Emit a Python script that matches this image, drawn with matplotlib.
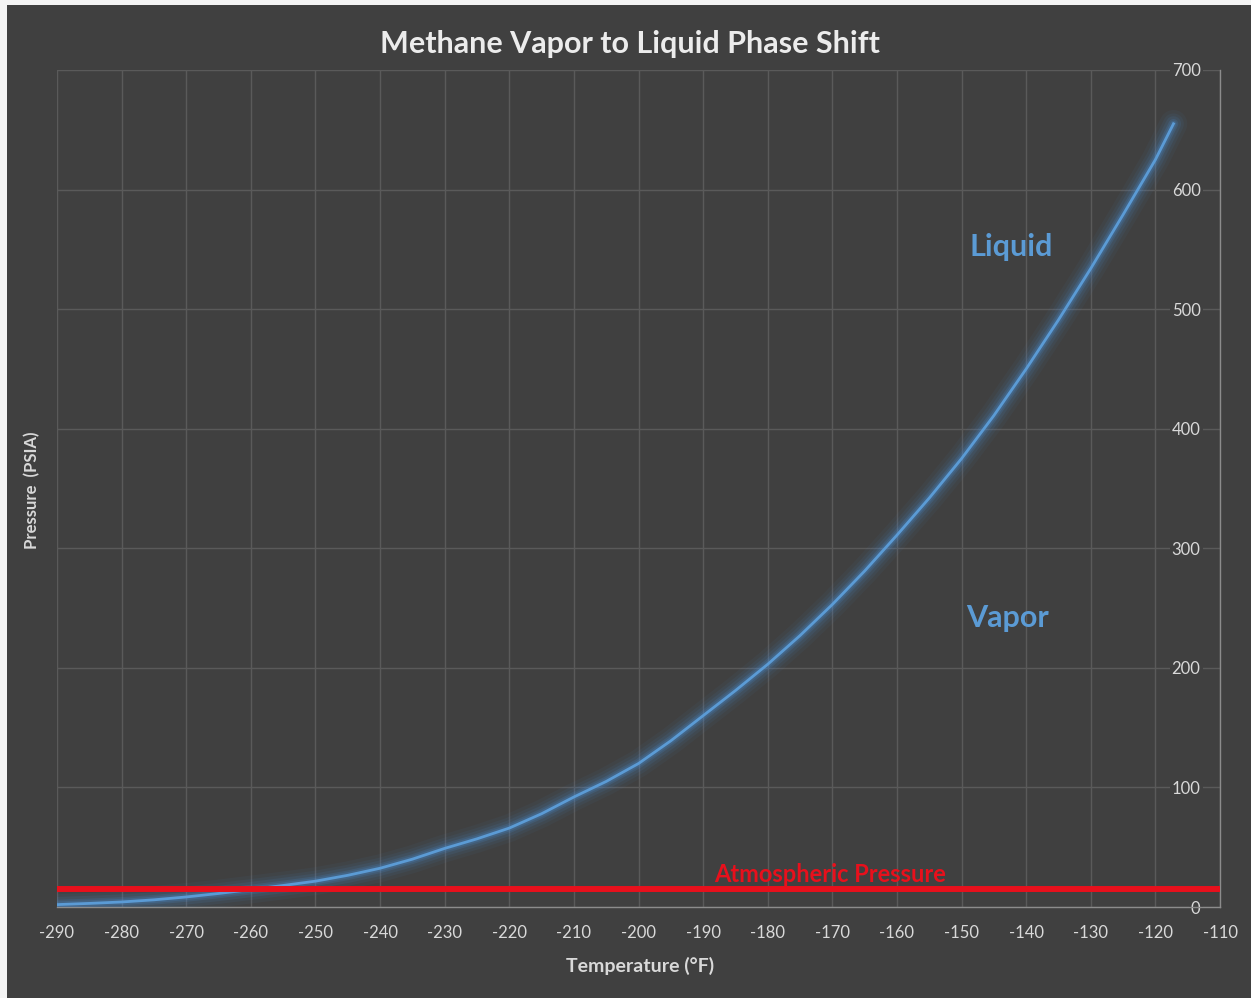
import matplotlib
matplotlib.use("Agg")
import matplotlib.pyplot as plt
from matplotlib.patches import Rectangle

plt.rcParams['font.family'] = ['Lato', 'DejaVu Sans']
plt.rcParams['axes.unicode_minus'] = False

# methane saturation curve
temp_f = [-290, -285, -280, -275, -270, -265, -260, -255, -250, -245, -240,
          -235, -230, -225, -220, -215, -210, -205, -200, -195, -190, -185,
          -180, -175, -170, -165, -160, -155, -150, -145, -140, -135, -130,
          -125, -120, -117.2]
pressure_psia = [2, 3, 4.2, 6, 8.4, 11.3, 14.6, 18, 21.6, 26.5, 32.4,
                 40, 49, 57, 66, 78, 92, 105, 120, 139, 160, 181,
                 203, 227, 253, 281, 311, 342, 375, 411, 450, 491, 534,
                 579, 625, 655]
atm_pressure = 14.7

x_ticks = list(range(-290, -109, 10))
y_ticks = list(range(0, 701, 100))

bg = '#404040'
text_col = '#d9d9d9'
blue = '#5b9bd5'
red = '#e8101c'

fig = plt.figure(figsize=(12.51, 9.98), dpi=100, facecolor=bg)
# thin light border on the top and left edges
fig.patches.append(Rectangle((0, 0), 7 / 1251, 1, transform=fig.transFigure,
                             facecolor='#f4f4f4', edgecolor='none', zorder=-10))
fig.patches.append(Rectangle((0, 1 - 5 / 998), 1, 5 / 998, transform=fig.transFigure,
                             facecolor='#f4f4f4', edgecolor='none', zorder=-10))

ax = fig.add_axes([57 / 1251, 1 - 907 / 998, (1220 - 57) / 1251, (907 - 70) / 998])
ax.set_facecolor(bg)
ax.set_xlim(-290, -110)
ax.set_ylim(0, 700)
ax.set_xticks(x_ticks)
ax.set_yticks(y_ticks)
ax.grid(True, color='#5a5a5a', linewidth=1)
ax.set_axisbelow(True)

for side in ['left', 'top']:
    ax.spines[side].set_visible(False)
for side in ['bottom', 'right']:
    ax.spines[side].set_color('#8c8c8c')
    ax.spines[side].set_linewidth(1)

ax.yaxis.tick_right()
ax.tick_params(axis='both', length=0, labelsize=12, labelcolor=text_col)
ax.tick_params(axis='x', pad=13)
ax.tick_params(axis='y', pad=-14)
for lbl in ax.get_yticklabels():
    lbl.set_horizontalalignment('right')
    lbl.set_bbox(dict(facecolor=bg, edgecolor='none', pad=1.5))

# glow behind the curve
for lw, a in [(20, 0.05), (15, 0.07), (11, 0.10), (7, 0.16), (4.5, 0.22)]:
    ax.plot(temp_f, pressure_psia, color='#4a8fd6', linewidth=lw, alpha=a,
            solid_capstyle='round', zorder=3)
ax.plot(temp_f, pressure_psia, color=blue, linewidth=2.0, zorder=4)

ax.axhline(atm_pressure, color=red, linewidth=4.3, zorder=5)
ax.text(-188.3, atm_pressure + 2.5, 'Atmospheric Pressure', color=red,
        fontsize=17, fontweight='bold', va='bottom', ha='left', zorder=6)

ax.text(-142.3, 552, 'Liquid', color=blue, fontsize=22, fontweight='bold',
        ha='center', va='center')
ax.text(-142.9, 242, 'Vapor', color=blue, fontsize=22, fontweight='bold',
        ha='center', va='center')

fig.text(630 / 1251, 1 - 44 / 998, 'Methane Vapor to Liquid Phase Shift',
         color='#ececec', fontsize=22, fontweight='bold', ha='center', va='center')
fig.text(640 / 1251, 1 - 966 / 998, 'Temperature (°F)', color=text_col,
         fontsize=14, fontweight='bold', ha='center', va='center')
fig.text(32 / 1251, 1 - 490 / 998, 'Pressure  (PSIA)', color=text_col,
         fontsize=12, fontweight='bold', ha='center', va='center', rotation=90)

fig.savefig('out.png', dpi=100, facecolor=fig.get_facecolor())
